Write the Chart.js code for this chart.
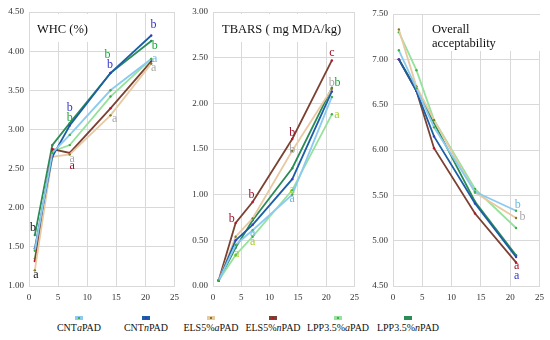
<!DOCTYPE html>
<html><head><meta charset="utf-8">
<script src="https://cdn.jsdelivr.net/npm/chart.js@4"></script>
<style>
body{margin:0;background:#fff;width:550px;height:340px;overflow:hidden;position:relative;font-family:"Liberation Serif",serif;}
canvas{position:absolute;top:0;}
.li{position:absolute;width:90px;text-align:center;font-size:10px;color:#111;top:322px;white-space:nowrap;}
.mk{position:absolute;width:8px;height:4px;top:316px;}
.mk span{position:absolute;left:3px;top:1px;width:2px;height:2px;}
</style></head><body>
<canvas id="c1" width="185" height="305" style="left:0"></canvas>
<canvas id="c2" width="180" height="305" style="left:185px"></canvas>
<canvas id="c3" width="185" height="305" style="left:365px"></canvas>
<div id="legend"></div>
<script>
// ---- data ----
const days = [1, 4, 7, 14, 21];
const seriesNames = ['CNTaPAD','CNTnPAD','ELS5%aPAD','ELS5%nPAD','LPP3.5%aPAD','LPP3.5%nPAD'];
const seriesLegendHtml = ['CNT<i>a</i>PAD','CNT<i>n</i>PAD','ELS5%<i>a</i>PAD','ELS5%<i>n</i>PAD','LPP3.5%<i>a</i>PAD','LPP3.5%<i>n</i>PAD'];

const whcCNTa  = [1.45, 2.70, 2.93, 3.50, 3.90];
const whcCNTn  = [1.48, 2.65, 3.05, 3.72, 4.20];
const whcELSa  = [1.20, 2.65, 2.68, 3.18, 3.84];
const whcELSn  = [1.32, 2.75, 2.70, 3.27, 3.87];
const whcLPPa  = [1.35, 2.72, 2.80, 3.42, 3.90];
const whcLPPn  = [1.65, 2.80, 3.08, 3.72, 4.13];

const tbCNTa = [0.06, 0.45, 0.61, 1.00, 2.07];
const tbCNTn = [0.06, 0.50, 0.67, 1.17, 2.13];
const tbELSa = [0.06, 0.54, 0.74, 1.48, 2.16];
const tbELSn = [0.06, 0.69, 0.92, 1.61, 2.47];
const tbLPPa = [0.06, 0.34, 0.54, 1.05, 1.88];
const tbLPPn = [0.06, 0.42, 0.72, 1.29, 2.17];

const oaCNTa = [7.10, 6.68, 6.25, 5.54, 5.33];
const oaCNTn = [7.00, 6.65, 6.15, 5.41, 4.82];
const oaELSa = [7.33, 6.70, 6.33, 5.53, 5.25];
const oaELSn = [7.00, 6.65, 6.02, 5.30, 4.76];
const oaLPPa = [7.30, 6.88, 6.33, 5.57, 5.14];
const oaLPPn = [7.00, 6.67, 6.30, 5.43, 4.84];

const whcTicks = [1.0, 1.5, 2.0, 2.5, 3.0, 3.5, 4.0, 4.5];
const tbTicks  = [0.0, 0.5, 1.0, 1.5, 2.0, 2.5, 3.0];
const oaTicks  = [4.5, 5.0, 5.5, 6.0, 6.5, 7.0, 7.5];
const xTicks   = [0, 5, 10, 15, 20, 25];

// significance letters: [letter, day, value, colour]
const whcLetters = [
  ['b',0.7,1.74,'#111'],['a',1.2,1.14,'#111'],
  ['a',7.4,2.63,'#a9a9a9'],['a',7.4,2.53,'#a0102a'],
  ['b',7.0,3.28,'#3434c8'],['b',7.0,3.15,'#1aa63a'],
  ['b',13.5,3.95,'#1aa63a'],['b',13.9,3.82,'#3434c8'],['a',14.7,3.14,'#a9a9a9'],
  ['b',21.4,4.33,'#3434c8'],['b',21.6,4.07,'#1aa63a'],['a',21.6,3.90,'#6ab8e0'],['a',21.4,3.79,'#a9a9a9']
];
const tbLetters = [
  ['c',21.0,2.55,'#a0102a'],['b',21.0,2.22,'#a9a9a9'],['b',22.0,2.22,'#1aa63a'],['a',21.9,1.87,'#a6d020'],
  ['b',14.0,1.68,'#a0102a'],['b',14.0,1.49,'#a9a9a9'],['a',14.0,1.05,'#a6d020'],['a',14.0,0.95,'#6ab8e0'],
  ['b',6.8,1.00,'#a0102a'],['a',7.0,0.58,'#6ab8e0'],['a',7.0,0.48,'#a6d020'],
  ['b',3.3,0.73,'#a0102a'],['a',4.2,0.35,'#a6d020']
];
const oaLetters = [
  ['b',21.3,5.39,'#6ab8e0'],['b',22.1,5.26,'#a9a9a9'],['a',21.1,4.72,'#a0102a'],['a',21.1,4.61,'#3434c8']
];

// ---- styles ----
const lineColors = ['#8ccaf0','#1c5fa6','#e9c9a2','#7b4233','#94e29c','#2b8c55'];
const pointColors = ['#3cb043','#3a3ac0','#7a7a20','#c0102a','#3cb043','#2b8c55'];
const FONT = '"Liberation Serif", serif';

function buildDatasets(arrs){
  return arrs.map((a,i)=>({
    label: seriesNames[i],
    data: days.map((d,j)=>({x:d, y:a[j]})),
    borderColor: lineColors[i],
    backgroundColor: pointColors[i],
    pointBackgroundColor: pointColors[i],
    pointBorderWidth: 0,
    pointRadius: 1.2,
    borderWidth: 1.8,
    tension: 0
  }));
}

const decoPlugin = {
  id:'deco',
  beforeDatasetsDraw(chart, args, o){
    const ca = chart.chartArea, ctx = chart.ctx;
    ctx.save();
    ctx.fillStyle = '#fff';
    ctx.fillRect(ca.left + o.box[0], ca.top + o.box[1], o.box[2], o.box[3]);
    ctx.fillStyle = '#111';
    ctx.font = o.size + 'px ' + FONT;
    ctx.textAlign = 'left'; ctx.textBaseline = 'alphabetic';
    o.lines.forEach((t,i)=>ctx.fillText(t, ca.left + o.tx, ca.top + o.ty + i*14));
    ctx.restore();
  },
  afterDatasetsDraw(chart, args, o){
    const {ctx, scales:{x,y}} = chart;
    ctx.save();
    ctx.font = '12px ' + FONT;
    ctx.textAlign='center'; ctx.textBaseline='middle';
    o.letters.forEach(([t,d,v,c])=>{ ctx.fillStyle=c; ctx.fillText(t, x.getPixelForValue(d), y.getPixelForValue(v)); });
    ctx.restore();
  }
};

function makeChart(id, arrs, yTicks, letters, title, yw, pad){
  new Chart(document.getElementById(id), {
    type:'line',
    data:{ datasets: buildDatasets(arrs) },
    plugins:[decoPlugin],
    options:{
      responsive:false, animation:false,
      layout:{ padding:{ top:pad.top, right:pad.right, left:0, bottom:0 } },
      plugins:{ legend:{display:false}, tooltip:{enabled:false}, deco:Object.assign({letters}, title) },
      scales:{
        x:{ type:'linear', min:xTicks[0], max:xTicks[xTicks.length-1],
            afterBuildTicks:s=>{ s.ticks = xTicks.map(v=>({value:v})); },
            afterFit:s=>{ s.height = 19; },
            grid:{ color:'#d9d9d9', drawTicks:false }, border:{ color:'#d9d9d9' },
            ticks:{ padding:6, color:'#333', font:{family:FONT,size:9}, callback:v=>String(v) } },
        y:{ type:'linear', min:yTicks[0], max:yTicks[yTicks.length-1],
            afterBuildTicks:s=>{ s.ticks = yTicks.map(v=>({value:v})); },
            afterFit:s=>{ s.width = yw; },
            grid:{ color:'#d9d9d9', drawTicks:false }, border:{ color:'#d9d9d9' },
            ticks:{ padding:5, color:'#333', font:{family:FONT,size:9}, callback:v=>Number(v).toFixed(2) } }
      }
    }
  });
}

makeChart('c1', [whcCNTa,whcCNTn,whcELSa,whcELSn,whcLPPa,whcLPPn], whcTicks, whcLetters,
  {lines:['WHC (%)'], size:12.5, tx:8, ty:21, box:[4,2,56,28]}, 29, {top:12,right:10});
makeChart('c2', [tbCNTa,tbCNTn,tbELSa,tbELSn,tbLPPa,tbLPPn], tbTicks, tbLetters,
  {lines:['TBARS ( mg MDA/kg)'], size:12.5, tx:9, ty:21, box:[5,2,116,28]}, 28, {top:12,right:9});
makeChart('c3', [oaCNTa,oaCNTn,oaELSa,oaELSn,oaLPPa,oaLPPn], oaTicks, oaLetters,
  {lines:['Overall','acceptability'], size:12.5, tx:39, ty:19, box:[35,1,112,36]}, 28, {top:14,right:8});

// legend
const legendCenters = [79, 146, 211, 273, 338, 408];
const lg = document.getElementById('legend');
seriesLegendHtml.forEach((h,i)=>{
  const m = document.createElement('div');
  m.className='mk'; m.style.left=(legendCenters[i]-4)+'px'; m.style.background=lineColors[i];
  const dot = document.createElement('span'); dot.style.background = pointColors[i]; m.appendChild(dot);
  lg.appendChild(m);
  const t = document.createElement('div');
  t.className='li'; t.style.left=(legendCenters[i]-45)+'px'; t.innerHTML=h;
  lg.appendChild(t);
});
</script>
</body></html>
